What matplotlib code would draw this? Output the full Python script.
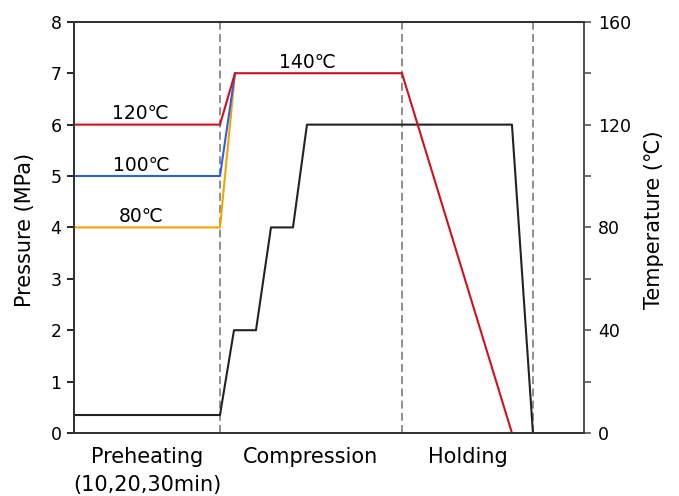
import matplotlib
matplotlib.use("Agg")
import matplotlib.pyplot as plt
import matplotlib.transforms as mtransforms
from matplotlib.ticker import MultipleLocator

plt.rcParams["font.family"] = ["DejaVu Sans"]

# ── Data (x in arbitrary time units, no ticks on the x axis) ──
phase_bounds = [146, 328, 459]
phase_names = ["Preheating", "Compression", "Holding"]
phase_label_x = [73, 237, 394]
phase_note = "(10,20,30min)"

# pressure (MPa)
p_x = [0, 146, 160, 182, 197, 219, 233, 438, 459]
p_y = [0.35, 0.35, 2, 2, 4, 4, 6, 6, 0]

# temperature (℃)
t120_x = [0, 146, 161, 328, 438]
t120_y = [120, 120, 140, 140, 0]
t100_x = [0, 146, 161]
t100_y = [100, 100, 140]
t80_x = [0, 146, 161]
t80_y = [80, 80, 140]

temp_labels = ["120℃", "100℃", "80℃", "140℃"]
temp_label_x = [66, 67, 67, 233]
temp_label_y = [122, 102, 82, 142]

fig = plt.figure(figsize=(6.79, 4.96), dpi=100)
ax = fig.add_axes([0.109, 0.127, 0.751, 0.829])
ax2 = ax.twinx()

for xb in phase_bounds:
    ax.axvline(xb, color="#707070", linewidth=1.1, linestyle=(0, (5.2, 2.8)), zorder=1)

ax.plot(p_x, p_y, color="#222222", linewidth=1.5, zorder=3)

ax2.plot(t80_x, t80_y, color="#f5a300", linewidth=1.5)
ax2.plot(t100_x, t100_y, color="#2f5fe8", linewidth=1.5)
ax2.plot(t120_x, t120_y, color="#d0101a", linewidth=1.5)

for s, xx, yy in zip(temp_labels, temp_label_x, temp_label_y):
    ax2.text(xx, yy, s, ha="center", va="baseline", fontsize=13.5)

ax.set_xlim(0, 510)
ax.set_ylim(0, 8)
ax2.set_ylim(0, 160)
ax.set_xticks([])
ax.yaxis.set_major_locator(MultipleLocator(1))
ax2.yaxis.set_major_locator(MultipleLocator(40))
ax2.yaxis.set_minor_locator(MultipleLocator(20))

ax.tick_params(axis="y", direction="out", length=5, width=1.2, labelsize=12.5, pad=4)
ax2.tick_params(axis="y", which="both", direction="out", length=5, width=1.2,
                labelsize=12.5, pad=5, colors="#555555", labelcolor="black")

for a in (ax, ax2):
    for sp in a.spines.values():
        sp.set_linewidth(1.3)
        sp.set_color("#333333")
ax2.spines["right"].set_color("#555555")

ax.set_ylabel("Pressure (MPa)", fontsize=15)
ax.yaxis.set_label_coords(-0.077, 0.494)
ax2.set_ylabel("Temperature (℃)", fontsize=15)
ax2.yaxis.set_label_coords(1.118, 0.52)

trans = mtransforms.blended_transform_factory(ax.transData, ax.transAxes)
for name, xx in zip(phase_names, phase_label_x):
    ax.text(xx, -0.073, name, transform=trans, ha="center", va="baseline", fontsize=15)
ax.text(phase_label_x[0], -0.141, phase_note, transform=trans, ha="center",
        va="baseline", fontsize=15)

fig.savefig("out.png", dpi=100)
